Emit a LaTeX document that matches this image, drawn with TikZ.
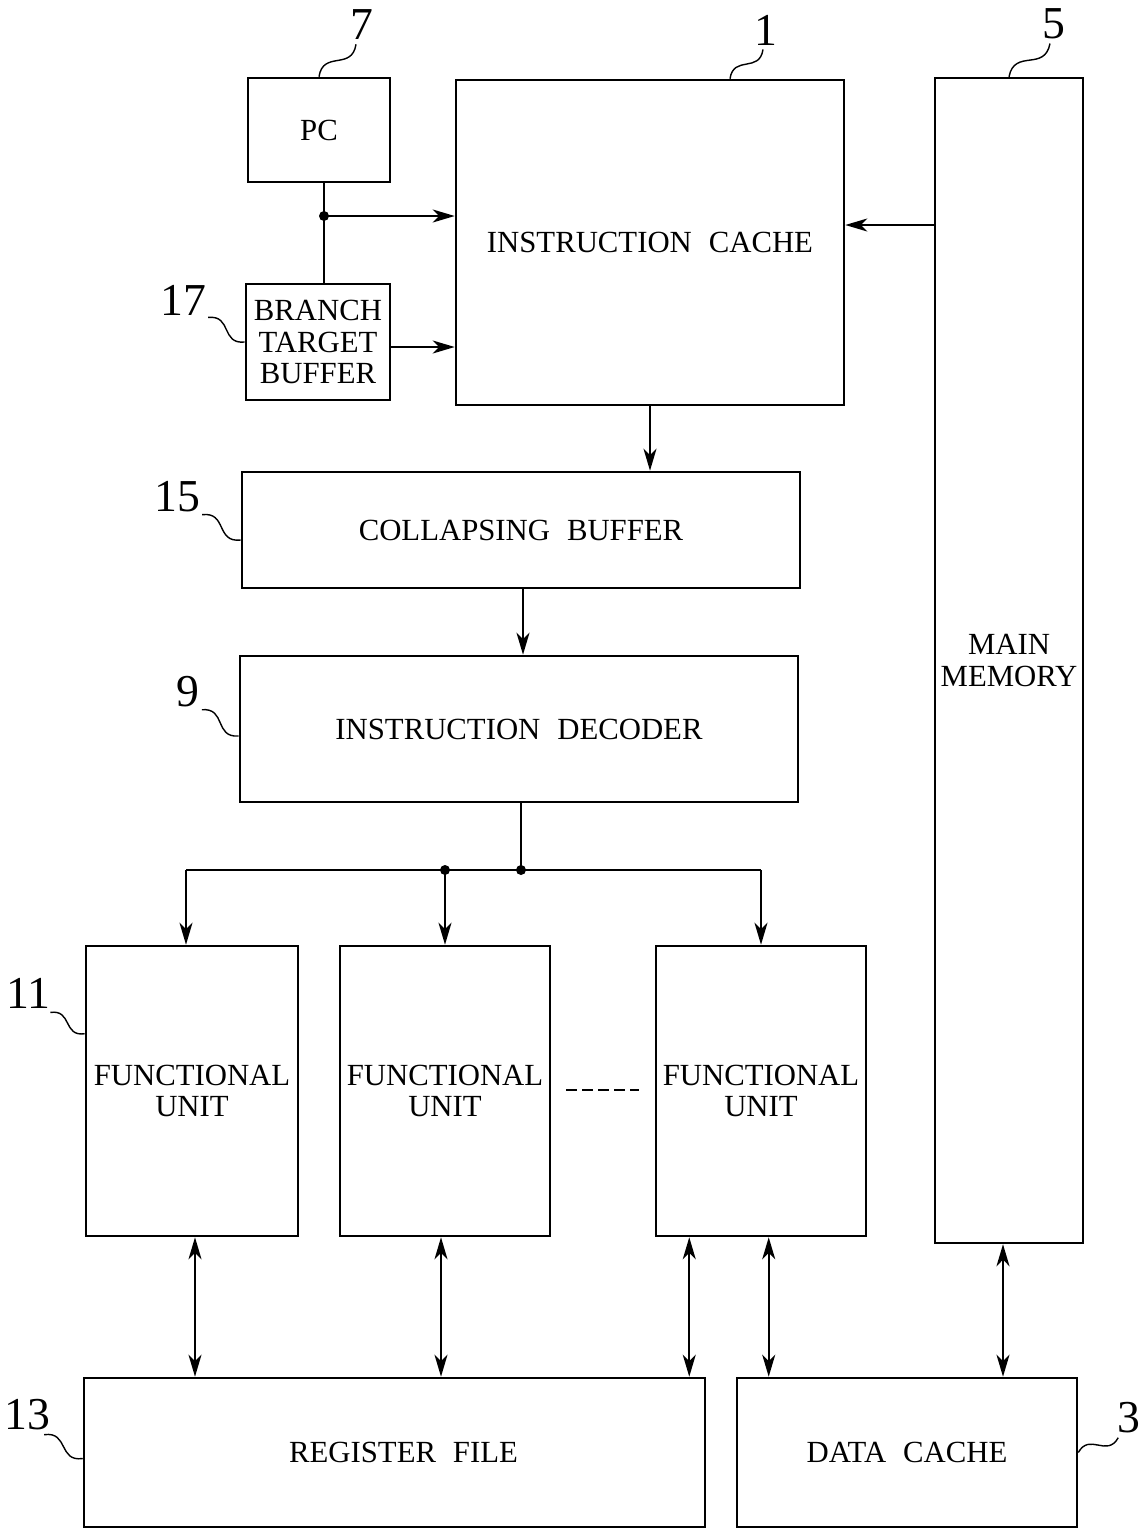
\documentclass[tikz,border=0pt]{standalone}
\usepackage{fontspec}
\setmainfont{Liberation Serif}
\usetikzlibrary{arrows.meta,calc}
\begin{document}
\begin{tikzpicture}[x=0.02cm,y=-0.02cm,
  blk/.style={draw,line width=1.5pt,inner sep=0pt,align=center,font=\fontsize{17.5}{18}\selectfont},
  conn/.style={line width=1.1pt},
  arr/.style={conn,-{Stealth[length=0.44cm,width=0.26cm,inset=0.13cm]}},
  dbl/.style={conn,{Stealth[length=0.44cm,width=0.26cm,inset=0.13cm]}-{Stealth[length=0.44cm,width=0.26cm,inset=0.13cm]}},
  num/.style={inner sep=0pt,font=\fontsize{26}{26}\selectfont},
  squig/.style={line width=0.8pt},
  jdot/.style={circle,fill,inner sep=0pt,minimum size=0.2cm}]
\useasboundingbox (0,0) rectangle (1147,1529);
\newcommand\wsp{\hspace{0.55em}}
% blocks
\node[blk,minimum width=2.84cm,minimum height=2.08cm] (pc) at (319,130) {PC};
\node[blk,minimum width=7.76cm,minimum height=6.5cm] (ic) at (650,242.5) {INSTRUCTION\wsp CACHE};
\node[blk,minimum width=2.96cm,minimum height=23.3cm] (mm) at (1009,660.5) {MAIN\\MEMORY};
\node[blk,minimum width=2.88cm,minimum height=2.32cm] (btb) at (318,342) {BRANCH\\TARGET\\BUFFER};
\node[blk,minimum width=11.16cm,minimum height=2.32cm] (cb) at (521,530) {COLLAPSING\wsp BUFFER};
\node[blk,minimum width=11.16cm,minimum height=2.92cm] (id) at (519,729) {INSTRUCTION\wsp DECODER};
\node[blk,minimum width=4.24cm,minimum height=5.8cm] (fu1) at (192,1091) {FUNCTIONAL\\UNIT};
\node[blk,minimum width=4.2cm,minimum height=5.8cm] (fu2) at (445,1091) {FUNCTIONAL\\UNIT};
\node[blk,minimum width=4.2cm,minimum height=5.8cm] (fu3) at (761,1091) {FUNCTIONAL\\UNIT};
\node[blk,minimum width=12.42cm,minimum height=2.98cm] (rf) at (394.5,1452.5) {\hspace*{0.36cm}REGISTER\wsp FILE};
\node[blk,minimum width=6.8cm,minimum height=2.98cm] (dc) at (907,1452.5) {DATA\wsp CACHE};
% reference numerals
\node[num] (l7) at (362,25) {7};
\node[num] (l1) at (766,30) {1};
\node[num] (l5) at (1054,24) {5};
\node[num] (l17) at (183,300) {17};
\node[num] (l15) at (177,497) {15};
\node[num] (l9) at (188,692) {9};
\node[num] (l11) at (28,993) {11};
\node[num] (l13) at (27,1415) {13};
\node[num] (l3) at (1129,1418) {3};
% squiggle leaders
\newcommand\squiggle[2]{\draw[squig] (#1) .. controls ($(#1)!0.55!40:(#2)$) and ($(#2)!0.55!40:(#1)$) .. (#2);}
\coordinate (s7) at ($(l7.south)+(-6,4)$);
\coordinate (s1) at ($(l1.south)+(-3,4)$);
\coordinate (s5) at ($(l5.south)+(-4,4)$);
\coordinate (s17) at ($(l17.south east)+(2,2)$);
\coordinate (s15) at ($(l15.south east)+(2,2)$);
\coordinate (s9) at ($(l9.south east)+(2,2)$);
\coordinate (s11) at ($(l11.south east)+(0,4)$);
\coordinate (s13) at ($(l13.south east)+(-6,4)$);
\coordinate (s3) at ($(l3.south west)+(1,4)$);
\coordinate (e1) at ($(ic.north)+(80,0)$);
\coordinate (e15) at ($(cb.west)+(0,10)$);
\coordinate (e9) at ($(id.west)+(0,7)$);
\coordinate (e11) at ($(fu1.north west)+(0,89)$);
\coordinate (e13) at ($(rf.west)+(0,6)$);
\squiggle{s7}{pc.north}
\squiggle{s1}{e1}
\squiggle{s5}{mm.north}
\squiggle{s17}{btb.west}
\squiggle{s15}{e15}
\squiggle{s9}{e9}
\squiggle{s11}{e11}
\squiggle{s13}{e13}
\squiggle{dc.east}{s3}
% PC / BTB to instruction cache
\coordinate (j1) at ($(pc.south |- 0,216)+(5,0)$);
\draw[conn] ($(pc.south)+(5,0)$) -- ($(btb.north)+(6,0)$);
\draw[arr] (j1) -- (j1 -| ic.west);
\node[jdot] at (j1) {};
\draw[arr] ($(btb.east)+(0,5)$) -- ($(btb.east -| ic.west)+(0,5)$);
\draw[arr] (mm.west |- 0,225) -- (ic.east |- 0,225);
% pipeline
\draw[arr] (ic.south) -- (ic.south |- cb.north);
\draw[arr] ($(cb.south)+(2,0)$) -- ($(cb.south |- id.north)+(2,0)$);
\coordinate (j2) at ($(id.south |- 0,870)+(2,0)$);
\coordinate (j3) at (fu2.north |- j2);
\draw[conn] ($(id.south)+(2,0)$) -- (j2);
\draw[arr] ($(fu1.north |- j2)+(-6,0)$) -- ($(fu1.north)+(-6,0)$);
\draw[conn] ($(fu1.north |- j2)+(-6,0)$) -- (fu3.north |- j2);
\draw[arr] (fu3.north |- j2) -- (fu3.north);
\draw[arr] (j3) -- (fu2.north);
\node[jdot] at (j2) {};
\node[jdot] at (j3) {};
\draw[line width=1.1pt,dash pattern=on 0.22cm off 0.1cm] ($(fu2.east)+(15,-1)$) -- ($(fu3.west)+(-16,-1)$);
% bidirectional links
\draw[dbl] ($(fu1.south)+(3,0)$) -- ($(fu1.south |- rf.north)+(3,0)$);
\draw[dbl] ($(fu2.south)+(-4,0)$) -- ($(fu2.south |- rf.north)+(-4,0)$);
\draw[dbl] ($(rf.north east)+(-17,0)$) -- ($(rf.north east |- fu3.south)+(-17,0)$);
\draw[dbl] ($(dc.north west)+(33,0)$) -- ($(dc.north west |- fu3.south)+(33,0)$);
\draw[dbl] ($(mm.south)+(-6,0)$) -- ($(mm.south |- dc.north)+(-6,0)$);
\end{tikzpicture}
\end{document}
